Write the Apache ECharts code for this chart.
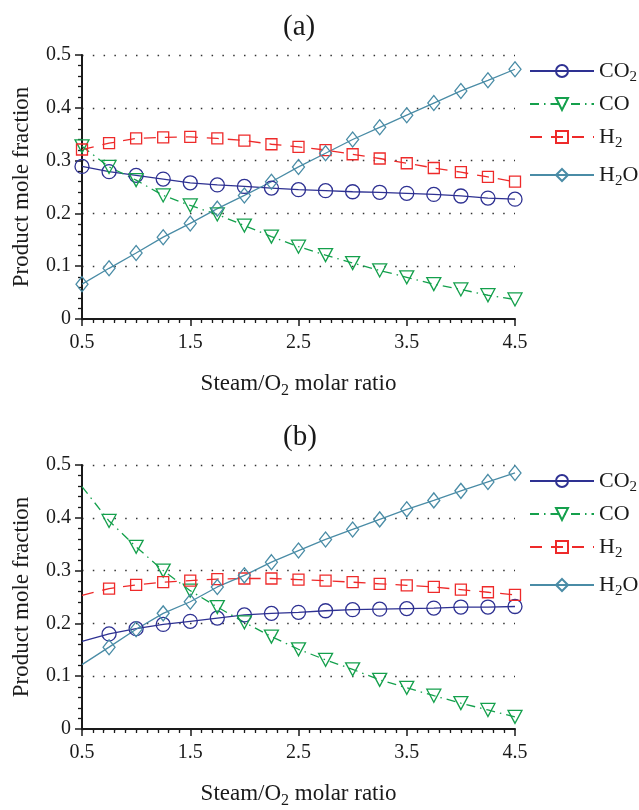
<!DOCTYPE html>
<html><head><meta charset="utf-8">
<script src="https://cdn.jsdelivr.net/npm/echarts@6/dist/echarts.min.js"></script>
<style>html,body{margin:0;padding:0;background:#fff}#c{width:639px;height:810px}</style>
</head><body><div id="c"></div>
<script>
// ---- data ----
const xValues = [0.5,0.75,1,1.25,1.5,1.75,2,2.25,2.5,2.75,3,3.25,3.5,3.75,4,4.25,4.5];
const seriesNames = ['CO2','CO','H2','H2O'];
const panelTitles = ['(a)','(b)'];
const xAxisTitle = 'Steam/O2 molar ratio';
const yAxisTitle = 'Product mole fraction';
// panel (a)
const a_CO2 = [0.289,0.279,0.272,0.265,0.258,0.254,0.251,0.248,0.245,0.243,0.241,0.240,0.238,0.236,0.233,0.229,0.227];
const a_CO  = [0.327,0.288,0.263,0.234,0.215,0.198,0.177,0.156,0.137,0.121,0.106,0.092,0.079,0.066,0.056,0.045,0.037];
const a_H2  = [0.321,0.333,0.342,0.344,0.345,0.342,0.338,0.331,0.326,0.320,0.312,0.304,0.295,0.286,0.278,0.269,0.260];
const a_H2O = [0.066,0.096,0.125,0.155,0.181,0.209,0.234,0.260,0.288,0.314,0.340,0.363,0.386,0.409,0.432,0.452,0.473];
// panel (b) (no marker drawn at the first point)
const b_CO2 = [0.166,0.180,0.190,0.198,0.204,0.210,0.216,0.219,0.221,0.224,0.226,0.227,0.228,0.229,0.231,0.231,0.232];
const b_CO  = [0.459,0.394,0.345,0.300,0.262,0.231,0.202,0.175,0.151,0.131,0.113,0.093,0.078,0.063,0.049,0.036,0.023];
const b_H2  = [0.253,0.266,0.273,0.278,0.281,0.284,0.285,0.285,0.283,0.281,0.278,0.275,0.272,0.269,0.264,0.259,0.254];
const b_H2O = [0.122,0.155,0.189,0.219,0.241,0.269,0.291,0.316,0.338,0.359,0.378,0.397,0.416,0.433,0.451,0.468,0.485];

// ---- styles ----
const FONT = '"Liberation Serif","Times New Roman",serif';
const TXT = '#1a1a1a';
const styles = {
  CO2: {color:'#2e3192', symbol:'circle', size:14, rotate:0, dash:'solid'},
  CO:  {color:'#14a04c', symbol:'triangle', size:[14,13], rotate:180, dash:[9,5,1.5,5]},
  H2:  {color:'#ee2a2a', symbol:'rect', size:11, rotate:0, dash:[12,9]},
  H2O: {color:'#4a8ca6', symbol:'diamond', size:[12,15], rotate:0, dash:'solid'}
};
const panels = [
  {CO2:a_CO2, CO:a_CO, H2:a_H2, H2O:a_H2O, hideFirst:false, top:55},
  {CO2:b_CO2, CO:b_CO, H2:b_H2, H2O:b_H2O, hideFirst:true, top:465}
];
const plotH = 264, plotLeft = 82, plotW = 433;

const rich = {
  n: {fontFamily:FONT, fontSize:22, color:TXT, lineHeight:22, verticalAlign:'top'},
  m: {fontFamily:FONT, fontSize:22, color:TXT, lineHeight:22},
  s: {fontFamily:FONT, fontSize:15, color:TXT, lineHeight:14, padding:[15,0,2,0]}
};
function sub(t){ // digits following letters become subscripts (rich text)
  if (!/\d/.test(t)) return '{m|' + t + '}';
  return t.replace(/([A-Za-z\/ ]+)|(\d)/g, (m0, w, d) => w ? '{n|' + w + '}' : '{s|' + d + '}');
}

const grid = [], xAxis = [], yAxis = [], series = [], legend = [], graphic = [];
panels.forEach((p, gi) => {
  grid.push({left:plotLeft, top:p.top, width:plotW, height:plotH});
  xAxis.push({
    type:'value', gridIndex:gi, min:0.5, max:4.5, interval:1,
    axisLine:{show:true, onZero:false, lineStyle:{color:TXT, width:2}},
    axisTick:{show:true, length:7, lineStyle:{color:TXT, width:1.5}},
    minorTick:{show:true, splitNumber:10, length:4, lineStyle:{color:TXT, width:1.3}},
    splitLine:{show:false},
    axisLabel:{fontFamily:FONT, fontSize:20, color:TXT, margin:14},
    name: sub(xAxisTitle),
    nameLocation:'middle', nameGap:53,
    nameTextStyle:{rich:{
      n:{fontFamily:FONT, fontSize:23, color:TXT, lineHeight:23, verticalAlign:'top'},
      s:{fontFamily:FONT, fontSize:16, color:TXT, lineHeight:15, padding:[14,0,0,0]}
    }}
  });
  yAxis.push({
    type:'value', gridIndex:gi, min:0, max:0.5, interval:0.1,
    axisLine:{show:true, onZero:false, lineStyle:{color:TXT, width:2}},
    axisTick:{show:true, length:7, lineStyle:{color:TXT, width:1.5}},
    minorTick:{show:true, splitNumber:5, length:4, lineStyle:{color:TXT, width:1.3}},
    splitLine:{show:true, lineStyle:{color:'#333', width:1.3, type:[1.5,9.3]}},
    axisLabel:{fontFamily:FONT, fontSize:20, color:TXT, margin:11},
    name: yAxisTitle, nameLocation:'middle', nameGap:49,
    nameTextStyle:{fontFamily:FONT, fontSize:23, color:TXT}
  });
  seriesNames.forEach(nm => {
    const st = styles[nm];
    series.push({
      type:'line', name:nm, xAxisIndex:gi, yAxisIndex:gi,
      data: xValues.map((x, i) => (p.hideFirst && i === 0)
        ? {value:[x, p[nm][i]], symbol:'none'}
        : [x, p[nm][i]]),
      symbol:st.symbol, symbolSize:st.size, symbolRotate:st.rotate,
      showAllSymbol:true,
      lineStyle:{color:st.color, width:1.3, type:st.dash},
      itemStyle:{color:'rgba(255,255,255,0)', borderColor:st.color, borderWidth:1.3},
      color:st.color,
      emphasis:{disabled:true}, animation:false, z: 2
    });
  });
  legend.push({
    data: seriesNames, orient:'vertical', left:529, top:p.top, padding:0,
    itemWidth:64, itemHeight:15, itemGap:6,
    formatter: nm => sub(nm),
    textStyle:{rich}, selectedMode:false
  });
  graphic.push({
    type:'text', left:283, top:p.top - 42,
    style:{text:panelTitles[gi], fontFamily:FONT, fontSize:29, fill:TXT}
  });
});

const chart = echarts.init(document.getElementById('c'), null, {renderer:'canvas'});
chart.setOption({
  backgroundColor:'#fff', animation:false,
  grid, xAxis, yAxis, series, legend, graphic
});
</script></body></html>
